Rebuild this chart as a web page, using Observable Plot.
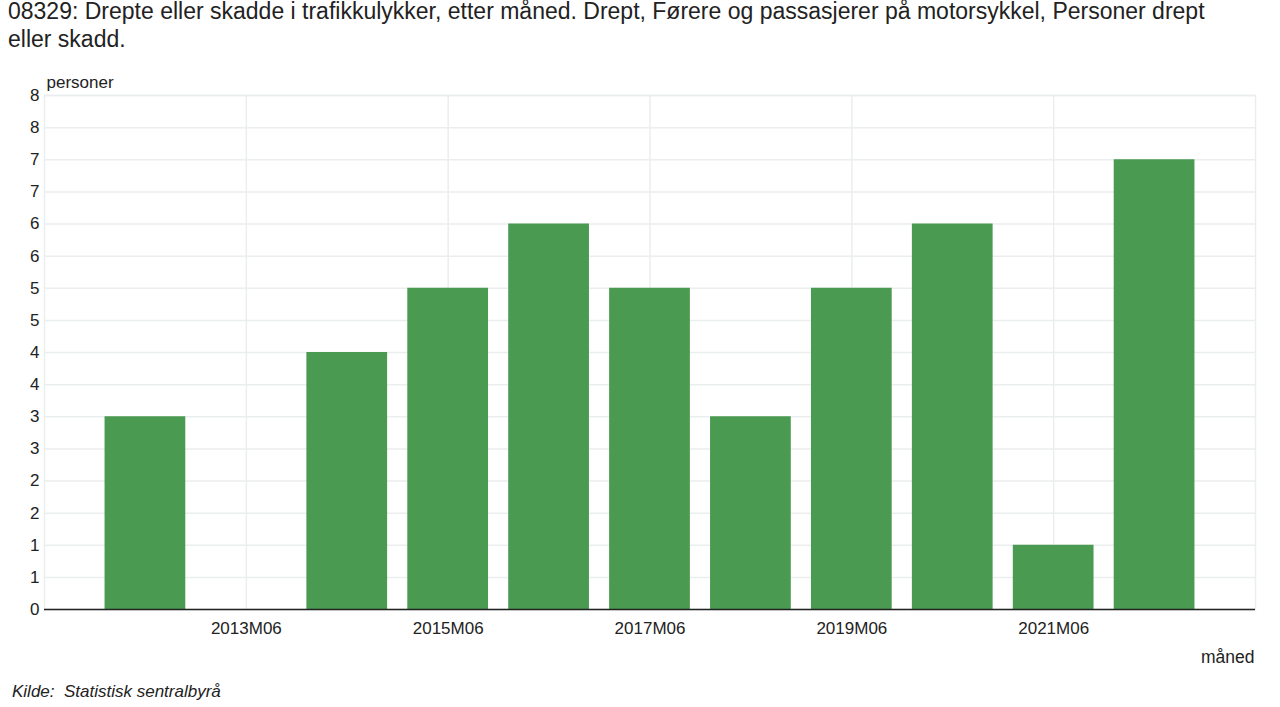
<!DOCTYPE html>
<html>
<head>
<meta charset="utf-8">
<script src="https://cdn.jsdelivr.net/npm/d3@7"></script>
<script src="https://cdn.jsdelivr.net/npm/@observablehq/plot@0.6"></script>
<style>
  body { margin: 0; background: #fff; font-family: "Liberation Sans", Arial, sans-serif; color: #222; }
  #title { position: absolute; left: 8px; top: -3px; width: 1260px; font-size: 23px; line-height: 28px; color: #222; z-index: 2; }
  #chart { position: absolute; left: 0; top: 62px; }
  #caption { position: absolute; left: 12px; top: 682px; font-size: 17px; font-style: italic; color: #222; z-index: 2; }
</style>
</head>
<body>
<div id="title">08329: Drepte eller skadde i trafikkulykker, etter måned. Drept, Førere og passasjerer på motorsykkel, Personer drept<br>eller skadd.</div>
<div id="chart"></div>
<div id="caption">Kilde:&nbsp; Statistisk sentralbyrå</div>
<script>
// Persons killed on motorcycles in June, per year
const years = [2012, 2013, 2014, 2015, 2016, 2017, 2018, 2019, 2020, 2021, 2022];
const killed = [3, 0, 4, 5, 6, 5, 3, 5, 6, 1, 7];
const xTicks = [2013, 2015, 2017, 2019, 2021];
const yTicks = d3.range(0, 8.01, 0.5);

const data = years.map((year, i) => ({year, value: killed[i]}));
const gridColor = "#ebeeee";
const barColor = "#4b9a52";

const chart = Plot.plot({
  width: 1280,
  height: 620,
  marginLeft: 44,
  marginRight: 25,
  marginTop: 33,
  marginBottom: 73,
  style: {fontFamily: "Liberation Sans, Arial, sans-serif", fontSize: "17px", color: "#222", background: "transparent"},
  x: {domain: [2011, 2023], label: null},
  y: {domain: [0, 8], label: null},
  marks: [
    Plot.gridY(yTicks, {stroke: gridColor, strokeOpacity: 1, strokeWidth: 1.5}),
    Plot.gridX(xTicks, {stroke: gridColor, strokeOpacity: 1, strokeWidth: 1.5}),
    Plot.frame({stroke: gridColor, strokeWidth: 1.5}),
    Plot.rectY(data, {x1: d => d.year - 0.4, x2: d => d.year + 0.4, y: "value", fill: barColor}),
    Plot.ruleY([0], {stroke: "#222", strokeWidth: 1.5}),
    Plot.axisY(yTicks, {tickSize: 0, tickPadding: 5, tickFormat: d => Math.round(d), label: null, fontSize: 17}),
    Plot.axisX(xTicks, {tickSize: 0, tickPadding: 12, tickFormat: d => `${d}M06`, label: null, fontSize: 17}),
    Plot.text(["personer"], {frameAnchor: "top-left", dx: 2, dy: -13, fontSize: 17, textAnchor: "start", lineAnchor: "middle"}),
    Plot.text(["måned"], {frameAnchor: "bottom-right", dx: -1, dy: 48, fontSize: 17.5, textAnchor: "end", lineAnchor: "middle"})
  ]
});
document.getElementById("chart").appendChild(chart);
</script>
</body>
</html>
